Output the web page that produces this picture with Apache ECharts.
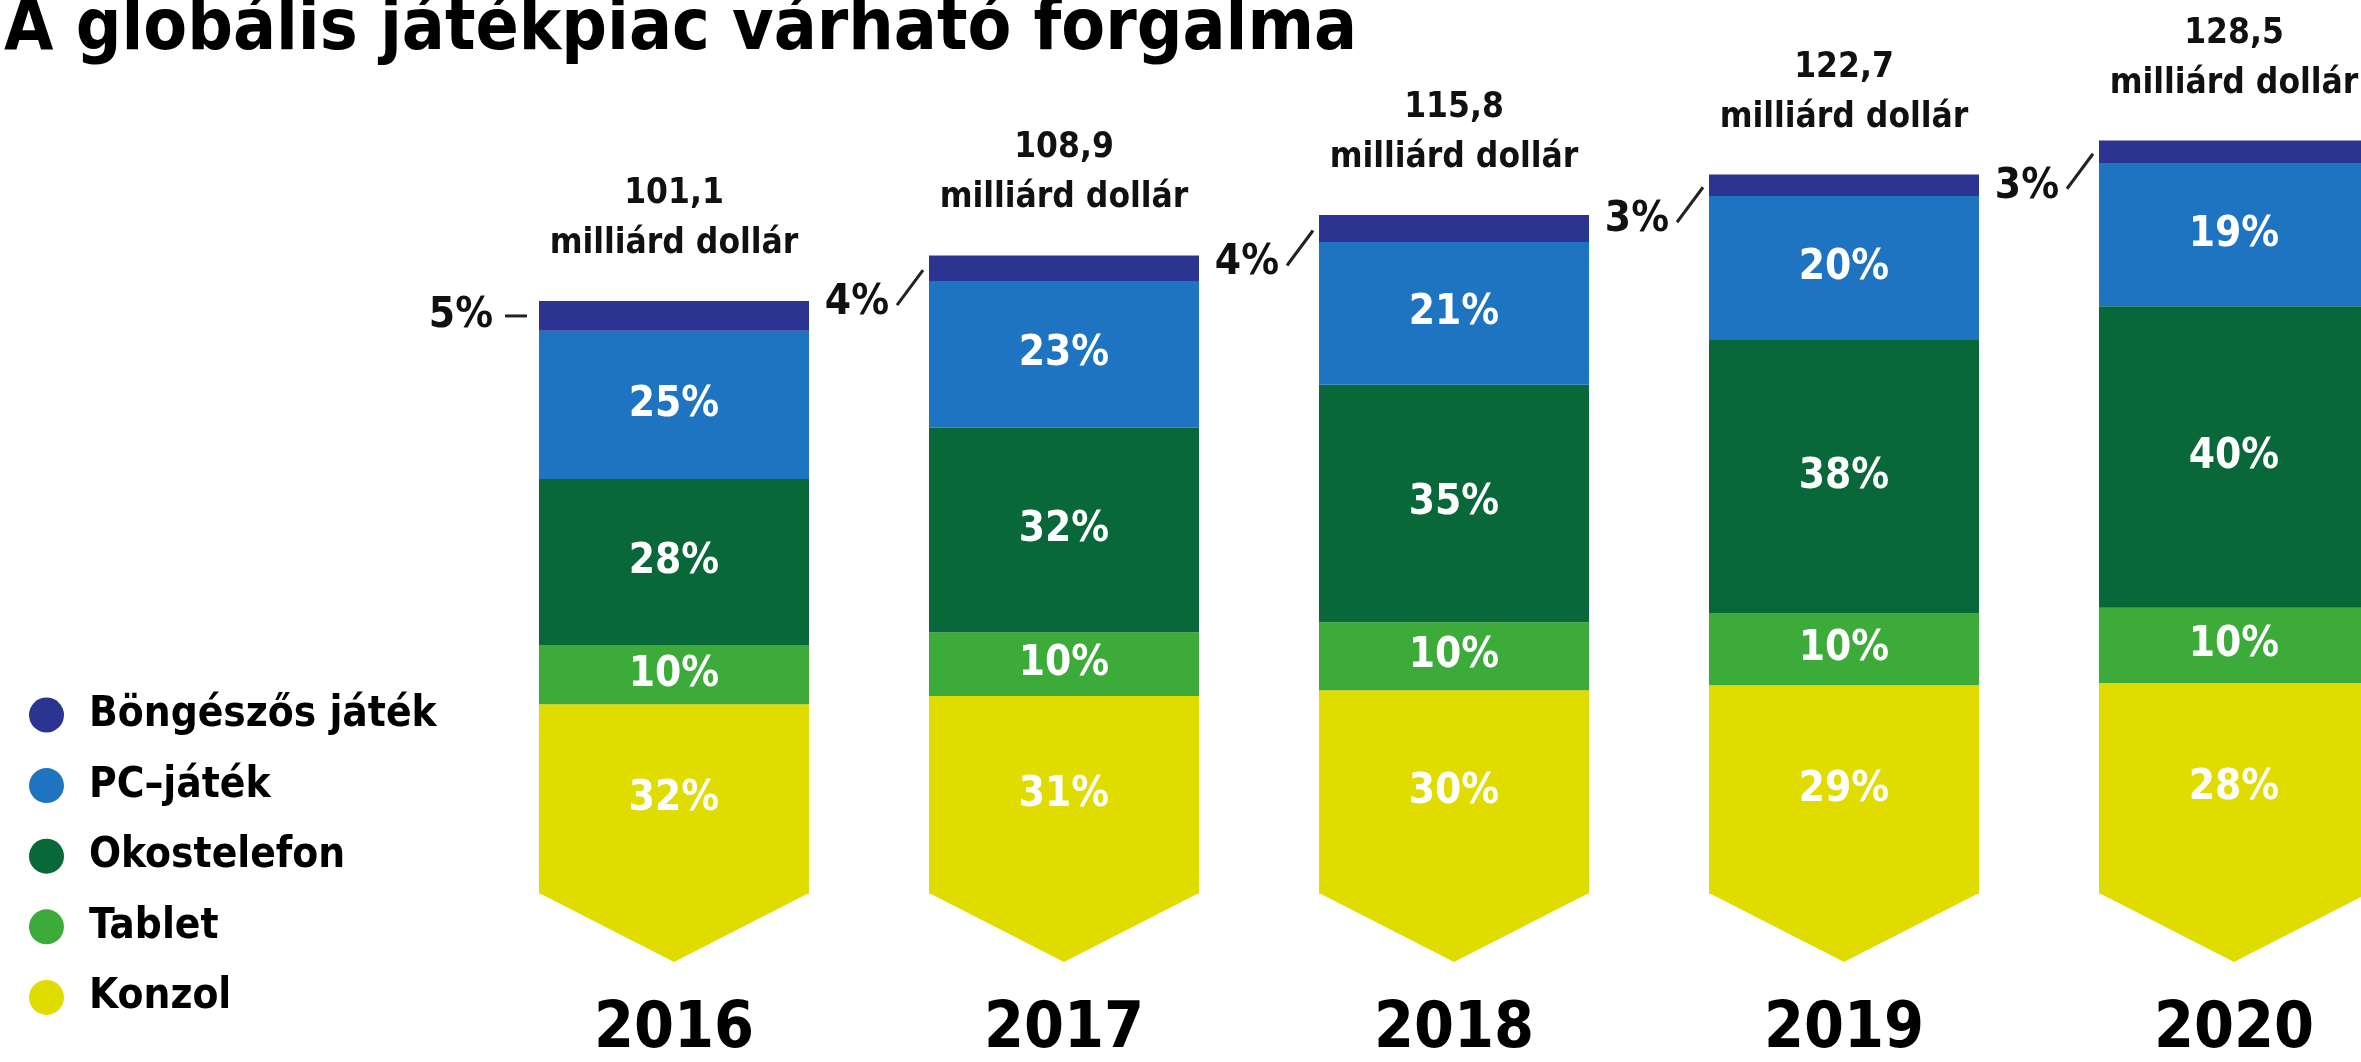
<!DOCTYPE html>
<html>
<head>
<meta charset="utf-8">
<script src="https://cdn.jsdelivr.net/npm/echarts@6/dist/echarts.min.js"></script>
<style>
  html, body { margin: 0; padding: 0; background: #fff; }
  #chart { width: 2361px; height: 1062px; }
</style>
</head>
<body>
<div id="chart"></div>
<script>
// adatok
var years = ['2016', '2017', '2018', '2019', '2020'];
var totals = [101.1, 108.9, 115.8, 122.7, 128.5];          // milliárd dollár
var pctBongeszo = [5, 4, 4, 3, 3];
var pctPc = [25, 23, 21, 20, 19];
var pctOko = [28, 32, 35, 38, 40];
var pctTablet = [10, 10, 10, 10, 10];
var pctKonzol = [32, 31, 30, 29, 28];
var names = ['Böngészős játék', 'PC–játék', 'Okostelefon', 'Tablet', 'Konzol'];
var colors = ['#2b3591', '#1f74c2', '#08683a', '#3cab3a', '#e1dc00'];

var FONT = "'Liberation Sans Narrow', 'DejaVu Sans Condensed', 'Roboto', sans-serif";
var BAR_W = 270;
var CHEVRON_H = 68;

function part(pct) {
    return totals.map(function (t, i) { return +(t * pct[i] / 100).toFixed(3); });
}

var dom = document.getElementById('chart');
var myChart = echarts.init(dom);

function segLabel(pct) {
    return {
        show: true,
        position: 'inside',
        color: '#fff',
        fontFamily: FONT,
        fontWeight: 'bold',
        fontSize: 42,
        formatter: function (p) { return pct[p.dataIndex] + '%'; }
    };
}

var stackOrder = [
    { name: names[4], pct: pctKonzol, color: colors[4] },
    { name: names[3], pct: pctTablet, color: colors[3] },
    { name: names[2], pct: pctOko, color: colors[2] },
    { name: names[1], pct: pctPc, color: colors[1] },
    { name: names[0], pct: pctBongeszo, color: colors[0] }
];

var series = stackOrder.map(function (s) {
    return {
        name: s.name,
        type: 'bar',
        stack: 'all',
        barWidth: BAR_W,
        clip: false,
        data: part(s.pct),
        itemStyle: { color: s.color },
        label: s.name === names[0] ? { show: false } : segLabel(s.pct),
        z: 3
    };
});

// sárga nyílhegy a konzol sáv alján
series.push({
    type: 'custom',
    name: 'chevron',
    silent: true,
    clip: false,
    data: years.map(function (y, i) { return [i, 0]; }),
    encode: { x: 0, y: 1 },
    renderItem: function (params, api) {
        var p = api.coord([api.value(0), 0]);
        var hw = BAR_W / 2;
        return {
            type: 'polygon',
            shape: { points: [[p[0] - hw, p[1] - 1], [p[0] + hw, p[1] - 1], [p[0], p[1] + CHEVRON_H]] },
            style: { fill: colors[4] }
        };
    },
    z: 2
});

// összeg felirat + böngészős százalék
series.push({
    type: 'custom',
    name: 'annot',
    silent: true,
    clip: false,
    data: totals.map(function (t, i) { return [i, t, pctBongeszo[i]]; }),
    encode: { x: 0, y: 1 },
    renderItem: function (params, api) {
        var i = api.value(0);
        var t = api.value(1);
        var pct = api.value(2);
        var top = api.coord([i, t]);
        var seg = api.coord([i, t - t * pct / 100 / 2]);
        var left = top[0] - BAR_W / 2;
        var children = [{
            type: 'text',
            style: {
                x: top[0], y: top[1] - 32,
                text: String(t).replace('.', ',') + '\nmilliárd dollár',
                align: 'center', verticalAlign: 'bottom',
                fontFamily: FONT, fontWeight: 'bold', fontSize: 35, lineHeight: 50,
                fill: '#111'
            }
        }];
        var ly, line;
        if (i === 0) {
            ly = seg[1];
            line = { x1: left - 34, y1: ly, x2: left - 12, y2: ly };
            children.push({ type: 'text', style: { x: left - 46, y: ly, text: pct + '%', align: 'right', verticalAlign: 'middle', fontFamily: FONT, fontWeight: 'bold', fontSize: 42, fill: '#111' } });
        } else {
            ly = seg[1] + 35;
            line = { x1: left - 32, y1: ly + 2, x2: left - 6, y2: seg[1] + 2 };
            children.push({ type: 'text', style: { x: left - 40, y: ly, text: pct + '%', align: 'right', verticalAlign: 'middle', fontFamily: FONT, fontWeight: 'bold', fontSize: 42, fill: '#111' } });
        }
        children.push({ type: 'line', shape: line, style: { stroke: '#222', lineWidth: 3 } });
        return { type: 'group', children: children };
    },
    z: 4
});

var option = {
    backgroundColor: '#fff',
    animation: false,
    color: colors,
    title: {
        text: 'A globális játékpiac várható forgalma',
        left: 4,
        top: -5,
        padding: 0,
        textStyle: { fontFamily: FONT, fontWeight: 'bold', fontSize: 71, color: '#000' }
    },
    legend: {
        orient: 'vertical',
        left: 29,
        top: 694,
        padding: 0,
        icon: 'circle',
        itemWidth: 75,
        itemHeight: 35,
        itemGap: 28.6,
        data: names,
        textStyle: { fontFamily: FONT, fontWeight: 'bold', fontSize: 42, lineHeight: 40, color: '#000' }
    },
    // évek a tick-eken, 390 px-enként; a 2020-as oszlop a kép szélén túllóg
    grid: { left: 674, right: 127, top: 73, bottom: 159, containLabel: false },
    xAxis: {
        type: 'category',
        data: years,
        boundaryGap: false,
        axisLine: { show: false },
        axisTick: { show: false },
        axisLabel: { margin: 104, fontFamily: FONT, fontWeight: 'bold', fontSize: 64, color: '#000' }
    },
    yAxis: {
        type: 'value',
        min: 0,
        max: 140,
        show: false,
        splitLine: { show: false }
    },
    series: series
};

myChart.setOption(option);
</script>
</body>
</html>
